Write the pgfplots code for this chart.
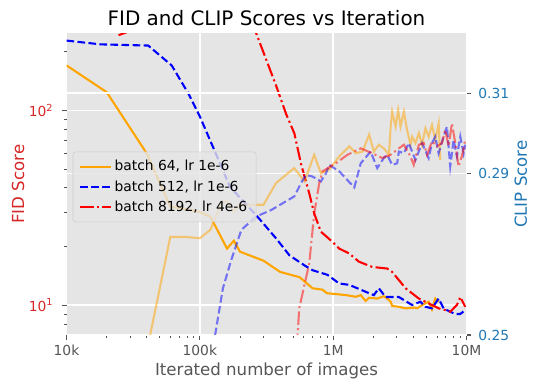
\documentclass[border=0pt]{standalone}
\usepackage{fontspec}
\setmainfont{DejaVu Sans}
\usepackage{pgfplots}
\pgfplotsset{compat=1.18}
\definecolor{ggbg}{HTML}{E5E5E5}
\definecolor{ggtick}{HTML}{555555}
\definecolor{tabred}{HTML}{D62728}
\definecolor{tabblue}{HTML}{1F77B4}
\definecolor{legedge}{HTML}{CCCCCC}
\definecolor{mplorange}{HTML}{FFA500}

% line styles as tikz styles so legend images can use them too
\tikzset{
  fidline/.style={line width=1.5bp},
  dashedmpl/.style={dash pattern=on 5.55bp off 2.4bp},
  dashdotmpl/.style={dash pattern=on 9.6bp off 2.4bp on 1.5bp off 2.4bp},
}
\pgfplotsset{
  shortlegend/.style={legend image code/.code={\draw[##1] (0bp,0bp) -- (22bp,0bp);}},
}

\begin{document}
\begin{tikzpicture}
\path[use as bounding box] (-47.88bp,-39.6bp) rectangle (340.92bp,241.2bp);

\begin{axis}[
  scale only axis, width=288bp, height=217.1bp,
  at={(0bp,0bp)}, anchor=south west,
  xmode=log, xmin=1e4, xmax=1e7,
  ymode=log, ymin=7.02, ymax=248,
  axis background/.style={fill=ggbg},
  axis x line*=bottom, axis y line*=left,
  axis line style={draw=none},
  tick align=outside,
  major tick length=3.5bp, minor tick length=2bp,
  major tick style={ggtick, line width=0.8bp},
  minor tick style={ggtick, line width=0.6bp},
  grid style={white, line width=1bp},
  tick label style={font=\fontsize{10}{12}\selectfont},
  xmajorgrids, ymajorgrids,
  xtick={1e4,1e5,1e6,1e7},
  xticklabels={10k,100k,1M,10M},
  minor xtick={2e4,3e4,4e4,5e4,6e4,7e4,8e4,9e4,2e5,3e5,4e5,5e5,6e5,7e5,8e5,9e5,2e6,3e6,4e6,5e6,6e6,7e6,8e6,9e6},
  ytick={10,100},
  yticklabels={{10\textsuperscript{1}},{10\textsuperscript{2}}},
  minor ytick={8,9,20,30,40,50,60,70,80,90,200},
  xticklabel style={text=ggtick, anchor=base, yshift=-11.4bp},
  yticklabel style={text=tabred, xshift=-2.5bp},
  title={FID and CLIP Scores vs Iteration},
  every axis title/.style={font=\fontsize{14.4}{17}\selectfont, at={(0.5,1)}, anchor=base, yshift=5.4bp},
  xlabel={Iterated number of images},
  xlabel style={font=\fontsize{12}{14}\selectfont, text=ggtick, at={(axis description cs:0.5,0)}, anchor=base, yshift=-29.3bp},
  ylabel={FID Score},
  ylabel style={font=\fontsize{12}{14}\selectfont, text=tabred, at={(axis description cs:-0.121,0.5)}, anchor=center},
]
% batch 64, lr 1e-6
\addplot[mplorange, fidline] coordinates {
(1e4,170) (2e4,124) (4e4,60) (6e4,32) (8e4,31) (1e5,30) (1.2e5,28.4) (1.6e5,19.5) (1.8e5,21.4) (2e5,18.8)
(3e5,16.9) (4e5,14.8) (5.6e5,13.9) (7e5,12.2) (8.3e5,12.0) (9e5,11.5) (1.1e6,11.35) (1.25e6,11.25)
(1.48e6,11.03) (1.61e6,11.25) (1.75e6,10.5) (1.86e6,10.9) (2.14e6,10.8) (2.4e6,11.1) (2.54e6,10.8)
(2.7e6,10.4) (2.77e6,9.9) (3.1e6,9.8) (3.3e6,9.7) (3.5e6,9.62) (4.1e6,9.7) (4.26e6,9.62) (4.64e6,10.0)
(5.2e6,10.4) (5.5e6,9.5) (5.83e6,10.8) (6.2e6,10.4)
};
% batch 512, lr 1e-6
\addplot[blue, fidline, dashedmpl] coordinates {
(1e4,228) (1.8e4,218) (4.1e4,215) (6.15e4,170) (8.2e4,122) (1e5,93) (1.29e5,62) (1.68e5,40.5)
(2.65e5,28.9) (3.73e5,22.0) (4.7e5,18.0) (6.08e5,16.0) (7e5,15.1) (9.06e5,14.3) (1.11e6,12.9)
(1.32e6,12.7) (1.86e6,11.5) (2.02e6,11.25) (2.2e6,12.2) (2.47e6,11.0) (3.11e6,11.0) (3.91e6,10.0)
(4.51e6,10.4) (4.92e6,9.8) (5.51e6,9.62) (6.18e6,10.8) (6.73e6,9.62) (7.55e6,9.24) (8.24e6,9.0)
(8.98e6,9.0) (9.78e6,9.42)
};
% batch 8192, lr 4e-6
\addplot[red, fidline, dashdotmpl] coordinates {
(24576,243) (49152,290) (98304,330) (196608,380) (2.65e5,248) (3.73e5,134) (4.43e5,96) (5.12e5,76)
(5.74e5,53) (6.62e5,37.4) (7.21e5,29.5) (8.09e5,23.8) (9.89e5,21.1) (1.11e6,19.5) (1.32e6,18.4)
(1.56e6,16.7) (1.96e6,15.7) (2.54e6,15.4) (2.77e6,14.8) (3.49e6,12.2) (4.39e6,10.8) (5.2e6,10.2)
(6.18e6,9.62) (6.93e6,9.42) (7.55e6,9.24) (8.47e6,10) (8.98e6,11) (9.78e6,9.8)
};
\end{axis}

\begin{axis}[
  scale only axis, width=288bp, height=217.1bp,
  at={(0bp,0bp)}, anchor=south west,
  xmode=log, xmin=1e4, xmax=1e7,
  ymin=0.25, ymax=0.3248,
  axis y line*=right,
  axis x line=none,
  axis line style={draw=none},
  tick align=outside,
  major tick length=3.5bp,
  major tick style={ggtick, line width=0.8bp},
  grid style={white, line width=1bp},
  tick label style={font=\fontsize{10}{12}\selectfont},
  ymajorgrids,
  ytick={0.25,0.29,0.31},
  yticklabels={0.25,0.29,0.31},
  yticklabel style={text=tabblue, xshift=1.5bp},
  ylabel={CLIP Score},
  ylabel style={font=\fontsize{12}{14}\selectfont, text=tabblue, at={(axis description cs:1.1355,0.5)}, anchor=center},
  legend cell align=left,
  legend style={at={(0.0155,0.608)}, anchor=north west,
    fill=ggbg, fill opacity=0.8, draw opacity=1, text opacity=1, draw=legedge,
    rounded corners=2bp, font=\fontsize{10}{12}\selectfont,
    inner xsep=4.5bp, inner ysep=4bp, row sep=1.6bp},
  shortlegend,
]
\addplot[mplorange, opacity=0.5, fidline, forget plot] coordinates {
(1e4,0.196) (2e4,0.2118) (4e4,0.2459) (6e4,0.2743) (8e4,0.2743) (1e5,0.2740) (1.2e5,0.2761) (1.45e5,0.2827)
(1.6e5,0.2831) (1.8e5,0.2806) (2e5,0.2823) (3e5,0.2823) (3.73e5,0.2877) (5.1e5,0.2914) (6.1e5,0.2881)
(7.2e5,0.2947) (8.1e5,0.2901) (9.3e5,0.2910) (1.11e6,0.2943) (1.32e6,0.2968) (1.48e6,0.2951)
(1.66e6,0.2955) (1.86e6,0.2997) (2.02e6,0.2955) (2.2e6,0.2972) (2.4e6,0.2963) (2.62e6,0.2947)
(2.7e6,0.3017) (2.77e6,0.3054) (2.94e6,0.3017) (3.07e6,0.3058) (3.2e6,0.3017) (3.39e6,0.3054)
(3.58e6,0.3009) (3.8e6,0.2972) (3.91e6,0.2992) (4.14e6,0.2976) (4.39e6,0.3001) (4.64e6,0.2972)
(4.92e6,0.3013) (5.2e6,0.2992) (5.51e6,0.3021) (5.83e6,0.2984) (6.18e6,0.3025) (6.36e6,0.2934)
};
\addplot[blue, opacity=0.5, fidline, dashedmpl, forget plot] coordinates {
(1e4,0.196) (1e5,0.2273) (1.49e5,0.2616) (1.72e5,0.2686) (2.05e5,0.2761) (2.65e5,0.2794) (3.43e5,0.2810)
(4.19e5,0.2827) (5.12e5,0.2844) (5.74e5,0.2877) (6.25e5,0.2897) (7e5,0.2893) (8.09e5,0.2881)
(8.83e5,0.2901) (9.33e5,0.2922) (1.11e6,0.2906) (1.44e6,0.2866) (1.61e6,0.2926) (1.91e6,0.2955)
(2.14e6,0.2914) (2.4e6,0.2939) (2.54e6,0.2947) (2.77e6,0.2922) (3.02e6,0.2926) (3.11e6,0.2955)
(3.39e6,0.2951) (3.69e6,0.2976) (4.14e6,0.2934) (4.64e6,0.2976) (5.2e6,0.2939) (5.51e6,0.2976)
(5.83e6,0.2992) (6.18e6,0.2951) (6.73e6,0.2992) (7.13e6,0.3017) (7.55e6,0.2918) (8e6,0.2984)
(8.47e6,0.2943) (8.98e6,0.2992) (9.51e6,0.2951) (9.78e6,0.2972)
};
\addplot[red, opacity=0.5, fidline, dashdotmpl, forget plot] coordinates {
(24576,0.196) (5e5,0.2325) (5.57e5,0.2567) (6.62e5,0.2678) (7.21e5,0.2802) (7.87e5,0.2877) (8.32e5,0.2906)
(1.047e6,0.2926) (1.28e6,0.2947) (1.61e6,0.2963) (1.96e6,0.2951) (2.33e6,0.2939) (2.7e6,0.2947)
(3.11e6,0.2963) (3.39e6,0.2972) (3.8e6,0.2943) (4.02e6,0.2922) (4.39e6,0.2972) (4.78e6,0.2976)
(5.06e6,0.2947) (5.51e6,0.2980) (6e6,0.2968) (6.54e6,0.2976) (6.93e6,0.3009) (7.35e6,0.2968)
(7.77e6,0.3025) (8.24e6,0.2976) (8.71e6,0.2918) (9.23e6,0.2943) (9.78e6,0.2984)
};
\addlegendimage{mplorange, fidline}
\addlegendentry{batch 64, lr 1e-6}
\addlegendimage{blue, fidline, dashedmpl}
\addlegendentry{batch 512, lr 1e-6}
\addlegendimage{red, fidline, dashdotmpl}
\addlegendentry{batch 8192, lr 4e-6}
\end{axis}
\end{tikzpicture}
\end{document}
